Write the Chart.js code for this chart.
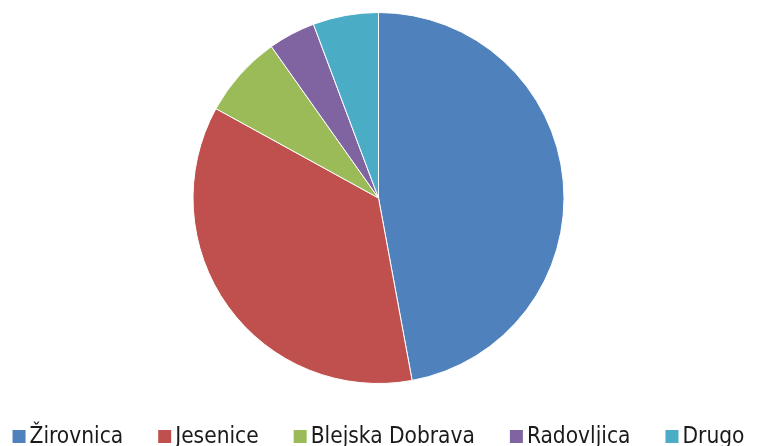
<!DOCTYPE html>
<html>
<head>
<meta charset="utf-8">
<script src="https://cdn.jsdelivr.net/npm/chart.js@4"></script>
<style>
  html, body { margin: 0; padding: 0; background: #fff; }
  #wrap { width: 757px; height: 446px; }
</style>
</head>
<body>
<div id="wrap"><canvas id="pieChart" width="757" height="446"></canvas></div>
<script>
// Shares (percent)
const labels = ['Žirovnica', 'Jesenice', 'Blejska Dobrava', 'Radovljica', 'Drugo'];
const shares = [47.1, 35.9, 7.2, 4.1, 5.7];
const colors = ['#4F81BD', '#C0504D', '#9BBB59', '#8064A2', '#4BACC6'];

// Legend drawn along the bottom edge, like the office-style original
const bottomLegend = {
    id: 'bottomLegend',
    afterDraw(chart) {
        const c = chart.ctx;
        const items = chart.legend.legendItems;
        c.save();
        c.font = '22.5px "DejaVu Sans Condensed", "Liberation Sans Narrow", sans-serif';
        c.textBaseline = 'alphabetic';
        const box = 13, gapText = 4, gapItem = 35;
        const widths = items.map(it => box + gapText + c.measureText(it.text).width);
        const total = widths.reduce((a, b) => a + b, 0) + gapItem * (items.length - 1);
        let x = (chart.width - total) / 2;
        const baseline = 443;
        items.forEach((it, i) => {
            c.fillStyle = it.fillStyle;
            c.fillRect(x, baseline - box, box, box);
            c.fillStyle = '#1a1a1a';
            c.fillText(it.text, x + box + gapText, baseline);
            x += widths[i] + gapItem;
        });
        c.restore();
    }
};

const ctx = document.getElementById('pieChart').getContext('2d');
new Chart(ctx, {
    type: 'pie',
    data: {
        labels: labels,
        datasets: [{
            data: shares,
            backgroundColor: colors,
            borderColor: '#ffffff',
            borderWidth: 1
        }]
    },
    options: {
        responsive: false,
        animation: false,
        layout: { padding: { top: 12, bottom: 62 } },
        plugins: {
            tooltip: { enabled: false },
            legend: { display: false }
        }
    },
    plugins: [bottomLegend]
});
</script>
</body>
</html>
